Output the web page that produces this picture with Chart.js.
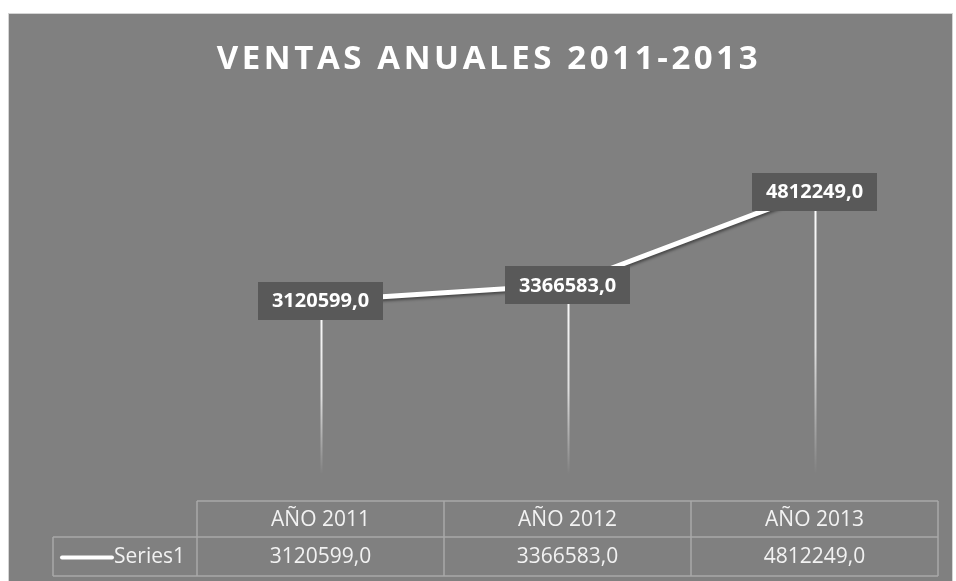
<!DOCTYPE html>
<html>
<head>
<meta charset="utf-8">
<script src="https://cdn.jsdelivr.net/npm/chart.js@4/dist/chart.umd.min.js"></script>
<style>
  html, body { margin: 0; padding: 0; background: #fff; }
  #wrap { width: 956px; height: 581px; }
</style>
</head>
<body>
<div id="wrap"><canvas id="ventas"></canvas></div>
<script>
// ── Ventas anuales: línea con tabla de datos ─────────────────────

const titulo = 'VENTAS ANUALES 2011-2013';
const anios = ['AÑO 2011', 'AÑO 2012', 'AÑO 2013'];
const serieNombre = 'Series1';
const ventas = [3120599.0, 3366583.0, 4812249.0];
const ejeMax = 6000000;

const fmt = v => v.toFixed(1).replace('.', ',');
const FONT = '"Open Sans", "Noto Sans", sans-serif';

// Fondo gris del área del gráfico
const fondo = {
    id: 'fondo',
    beforeDraw(chart) {
        const c = chart.ctx;
        c.save();
        c.fillStyle = '#ffffff';
        c.fillRect(0, 0, chart.width, chart.height);
        c.fillStyle = '#808080';
        c.fillRect(9, 14, 943, 567);
        c.strokeStyle = '#d4d4d4';
        c.lineWidth = 1;
        c.strokeRect(8.5, 13.5, 944, 570);
        // título
        c.fillStyle = '#ffffff';
        c.font = 'bold 33px ' + FONT;
        c.letterSpacing = '3.6px';
        c.textAlign = 'center';
        c.textBaseline = 'middle';
        c.fillText(titulo, 489, 60);
        c.restore();
    }
};

// Líneas de caída desde cada punto, con degradado
const caidas = {
    id: 'caidas',
    beforeDatasetsDraw(chart) {
        const c = chart.ctx;
        const area = chart.chartArea;
        const meta = chart.getDatasetMeta(0);
        c.save();
        meta.data.forEach(p => {
            const g = c.createLinearGradient(0, p.y, 0, area.bottom - 28);
            g.addColorStop(0, 'rgba(255,255,255,1)');
            g.addColorStop(0.55, 'rgba(255,255,255,0.75)');
            g.addColorStop(1, 'rgba(255,255,255,0)');
            c.strokeStyle = g;
            c.lineWidth = 2;
            c.beginPath();
            c.moveTo(Math.round(p.x) + 0.5, p.y);
            c.lineTo(Math.round(p.x) + 0.5, area.bottom - 28);
            c.stroke();
        });
        c.restore();
    },
    beforeDatasetDraw(chart) {
        const c = chart.ctx;
        c.save();
        c.shadowColor = 'rgba(0,0,0,0.45)';
        c.shadowBlur = 3;
        c.shadowOffsetX = 1;
        c.shadowOffsetY = 2;
    },
    afterDatasetDraw(chart) {
        chart.ctx.restore();
    }
};

// Etiquetas de valor centradas en cada punto
const etiquetas = {
    id: 'etiquetas',
    afterDatasetsDraw(chart) {
        const c = chart.ctx;
        const meta = chart.getDatasetMeta(0);
        c.save();
        c.font = 'bold 20px ' + FONT;
        c.textAlign = 'center';
        c.textBaseline = 'middle';
        meta.data.forEach((p, i) => {
            const w = 125, h = 38;
            c.fillStyle = '#595959';
            c.fillRect(Math.round(p.x - w / 2), Math.round(p.y - h / 2), w, h);
            c.fillStyle = '#ffffff';
            c.fillText(fmt(ventas[i]), p.x, p.y + 1);
        });
        c.restore();
    }
};

// Tabla de datos bajo el eje
const tabla = {
    id: 'tabla',
    afterDraw(chart) {
        const c = chart.ctx;
        const xs = chart.scales.x;
        const area = chart.chartArea;
        const paso = (area.right - area.left) / anios.length;
        const cols = anios.map((_, i) => area.left + i * paso);
        cols.push(area.right);
        const y0 = area.bottom - 1, y1 = y0 + 36, y2 = y1 + 39;
        const izq = 53;
        c.save();
        c.strokeStyle = '#a8a8a8';
        c.lineWidth = 1.5;
        c.beginPath();
        c.moveTo(cols[0], y0); c.lineTo(area.right, y0);
        c.moveTo(izq, y1); c.lineTo(area.right, y1);
        c.moveTo(izq, y2); c.lineTo(area.right, y2);
        c.moveTo(izq, y1); c.lineTo(izq, y2);
        cols.forEach(x => { c.moveTo(x, y0); c.lineTo(x, y2); });
        c.stroke();

        c.fillStyle = '#f2f2f2';
        c.font = '21px ' + FONT;
        c.textAlign = 'center';
        c.textBaseline = 'middle';
        anios.forEach((a, i) => {
            const cx = xs.getPixelForValue(i);
            c.fillText(a, cx, (y0 + y1) / 2 + 1);
            c.fillText(fmt(ventas[i]), cx, (y1 + y2) / 2 + 1);
        });
        // clave de leyenda
        c.strokeStyle = '#ffffff';
        c.lineWidth = 4;
        c.lineCap = 'round';
        c.beginPath();
        c.moveTo(62, (y1 + y2) / 2 + 1);
        c.lineTo(112, (y1 + y2) / 2 + 1);
        c.stroke();
        c.textAlign = 'left';
        c.fillText(serieNombre, 114, (y1 + y2) / 2 + 1);
        c.restore();
    }
};

new Chart(document.getElementById('ventas'), {
    type: 'line',
    data: {
        labels: anios,
        datasets: [{
            label: serieNombre,
            data: ventas,
            borderColor: '#ffffff',
            borderWidth: 5,
            pointRadius: 0,
            tension: 0,
            fill: false
        }]
    },
    options: {
        responsive: true,
        maintainAspectRatio: false,
        animation: false,
        layout: { padding: { left: 197, right: 18, top: 115, bottom: 79 } },
        scales: {
            x: { display: false, offset: true },
            y: { display: false, min: 0, max: ejeMax }
        },
        plugins: {
            legend: { display: false },
            tooltip: { enabled: false },
            title: { display: false }
        }
    },
    plugins: [fondo, caidas, etiquetas, tabla]
});
</script>
</body>
</html>
